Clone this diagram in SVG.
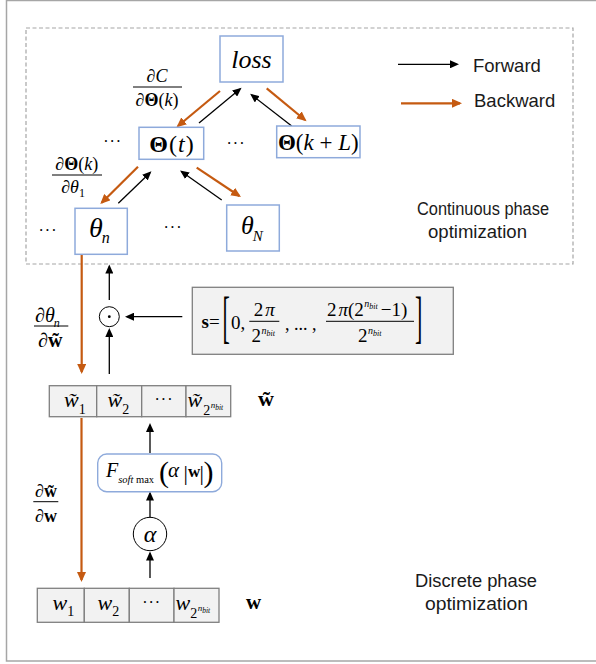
<svg xmlns="http://www.w3.org/2000/svg" width="596" height="664" viewBox="0 0 596 664">
<style>
.m{font-family:"Liberation Serif","Times New Roman",serif;fill:#000}
.i{font-style:italic}
.b{font-weight:bold}
.t{font-family:"Liberation Sans",Arial,sans-serif;fill:#1a1a1a}
.nb{fill:#fff;stroke:#8eaadb;stroke-width:1.5}
.gb{fill:#f2f2f2;stroke:#7f7f7f;stroke-width:1.3}
.bar{stroke:#000;stroke-width:1}
.fw{stroke:#000;stroke-width:1.3;fill:none;marker-end:url(#ak)}
.bw{stroke:#c55a11;stroke-width:2.2;fill:none;marker-end:url(#ao)}
</style>
<defs>
<marker id="ak" markerUnits="userSpaceOnUse" markerWidth="10" markerHeight="8" refX="7" refY="4" orient="auto"><path d="M0,0 L9,4 L0,8 z" fill="#000"/></marker>
<marker id="ao" markerUnits="userSpaceOnUse" markerWidth="11" markerHeight="9" refX="8" refY="4.5" orient="auto"><path d="M0,0 L10,4.5 L0,9 z" fill="#c55a11"/></marker>
</defs>

<rect x="6.5" y="0.5" width="620" height="660.5" fill="#fff" stroke="#a6a6a6" stroke-width="1.5"/>
<rect x="26" y="28" width="547" height="236" fill="none" stroke="#a6a6a6" stroke-width="1.2" stroke-dasharray="4 2.5"/>

<g id="connectors">
<path class="bw" d="M220,91 L178,126"/>
<path class="fw" d="M199,123 L240,89"/>
<path class="fw" d="M291.7,126 L251.7,95"/>
<path class="bw" d="M266.7,88.3 L305,120"/>
<path class="bw" d="M138,166.7 L101.7,202.7"/>
<path class="fw" d="M118.3,203.3 L150,172.7"/>
<path class="fw" d="M221.7,200 L181.7,171.7"/>
<path class="bw" d="M196.7,167.7 L239.3,196"/>
<path class="bw" d="M81.7,255 L81.7,372"/>
<path class="fw" d="M109.3,300 L109.3,266.5"/>
<path class="fw" d="M109.3,374 L109.3,330"/>
<path class="fw" d="M182.3,316.7 L127,316.7"/>
<path class="bw" d="M81.5,418 L81.5,580"/>
<path class="fw" d="M150,453 L150,425"/>
<path class="fw" d="M150,518 L150,493.5"/>
<path class="fw" d="M150,578 L150,553.5"/>
</g>

<g id="legend">
<path class="fw" d="M398,64.3 L457,64.3"/>
<text class="t" x="473" y="71.5" font-size="18.5">Forward</text>
<path class="bw" d="M401,103.3 L460,103.3" stroke-width="1.8"/>
<text class="t" x="474" y="106.7" font-size="18.5">Backward</text>
</g>

<g id="loss">
<rect class="nb" x="220" y="36" width="63" height="46"/>
<text class="m i" x="251.5" y="67.7" font-size="26" text-anchor="middle">loss</text>
</g>

<g id="theta-t">
<rect class="nb" x="139" y="127.3" width="64.7" height="32"/>
<text class="m" x="171.5" y="151.5" font-size="24" text-anchor="middle"><tspan class="b">Θ</tspan><tspan dx="1">(</tspan><tspan class="i" dx="1">t</tspan><tspan dx="1">)</tspan></text>
</g>

<g id="theta-kL">
<rect class="nb" x="276.7" y="126" width="83.3" height="31.7"/>
<text class="m" x="318.3" y="149.8" font-size="23" text-anchor="middle"><tspan class="b">Θ</tspan>(<tspan class="i">k</tspan> + <tspan class="i">L</tspan>)</text>
</g>

<g id="theta-n">
<rect class="nb" x="75" y="208.3" width="52.3" height="46"/>
<text class="m i" x="89" y="237" font-size="28">θ<tspan font-size="16" dx="-1" dy="6">n</tspan></text>
</g>

<g id="theta-N">
<rect class="nb" x="226.7" y="205" width="52.6" height="46"/>
<text class="m i" x="241" y="234" font-size="26">θ<tspan font-size="15" dx="-1" dy="7">N</tspan></text>
</g>

<g id="dots" class="m" font-size="16">
<text x="112.7" y="146.5" text-anchor="middle" letter-spacing="1">···</text>
<text x="236" y="149" text-anchor="middle" letter-spacing="1">···</text>
<text x="48" y="235.5" text-anchor="middle" letter-spacing="1">···</text>
<text x="173" y="233" text-anchor="middle" letter-spacing="1">···</text>
</g>

<g id="frac-dC">
<text class="m" x="157" y="81.5" font-size="18" text-anchor="middle">∂<tspan class="i">C</tspan></text>
<line class="bar" x1="133" y1="87" x2="182" y2="87"/>
<text class="m" x="157" y="106" font-size="18" text-anchor="middle">∂<tspan class="b">Θ</tspan>(<tspan class="i">k</tspan>)</text>
</g>

<g id="frac-dTheta">
<text class="m" x="76.7" y="170" font-size="18" text-anchor="middle">∂<tspan class="b">Θ</tspan>(<tspan class="i">k</tspan>)</text>
<line class="bar" x1="52" y1="175" x2="102" y2="175"/>
<text class="m" x="73" y="193" font-size="18" text-anchor="middle">∂<tspan class="i">θ</tspan><tspan font-size="12" dy="4">1</tspan></text>
</g>

<g id="odot">
<circle cx="109.3" cy="316.7" r="10" fill="#fff" stroke="#000" stroke-width="1"/>
<circle cx="109.3" cy="316.7" r="1.4" fill="#000"/>
</g>

<g id="s-vector">
<rect class="gb" x="192.3" y="287.3" width="261" height="67"/>
<text class="m" x="201.5" y="328.3" font-size="19"><tspan class="b">s</tspan>=</text>
<text class="m" x="222.5" y="129.4" font-size="22" transform="scale(1,2.6)">[</text>
<text class="m" x="231" y="328.5" font-size="19">0,</text>
<text class="m" x="264.3" y="315.7" font-size="19" text-anchor="middle">2<tspan class="i" dx="2">π</tspan></text>
<line class="bar" x1="249.3" y1="321.3" x2="279.3" y2="321.3"/>
<text class="m" x="251.5" y="342.3" font-size="19">2<tspan class="i" font-size="10" dy="-8.5" dx="0.5">n<tspan font-size="8" dy="2">bit</tspan></tspan></text>
<text class="m" x="285" y="329.5" font-size="18">, ... ,</text>
<text class="m" x="327" y="315.7" font-size="19">2<tspan class="i" dx="2">π</tspan>(2<tspan class="i" font-size="10" dy="-8.5" dx="0.5">n<tspan font-size="8" dy="2">bit</tspan></tspan><tspan dy="6.5" dx="3">−1)</tspan></text>
<line class="bar" x1="326" y1="321.3" x2="414" y2="321.3"/>
<text class="m" x="358" y="342.3" font-size="19">2<tspan class="i" font-size="10" dy="-8.5" dx="0.5">n<tspan font-size="8" dy="2">bit</tspan></tspan></text>
<text class="m" x="415" y="129.4" font-size="22" transform="scale(1,2.6)">]</text>
</g>

<g id="frac-dtheta-dw">
<text class="m" x="35" y="322" font-size="20">∂<tspan class="i">θ</tspan><tspan class="i" font-size="12" dy="5" dx="-1">n</tspan></text>
<line class="bar" x1="34" y1="326" x2="68.3" y2="326"/>
<text class="m" x="38" y="347" font-size="20">∂<tspan class="b">w̃</tspan></text>
</g>

<g id="w-tilde">
<rect class="gb" x="49.3" y="385.7" width="47.4" height="31"/>
<rect class="gb" x="96.7" y="385.7" width="45" height="31"/>
<rect class="gb" x="141.7" y="385.7" width="44.3" height="31"/>
<rect class="gb" x="186" y="385.7" width="44.7" height="31"/>
<text class="m" x="64" y="407" font-size="22"><tspan class="i">w̃</tspan><tspan font-size="14" dy="7" dx="0">1</tspan></text>
<text class="m" x="107.5" y="407" font-size="22"><tspan class="i">w̃</tspan><tspan font-size="14" dy="7" dx="0">2</tspan></text>
<text class="m" x="164" y="405" font-size="16" text-anchor="middle" letter-spacing="1">···</text>
<text class="m" x="187.5" y="407" font-size="22"><tspan class="i">w̃</tspan><tspan font-size="14" dy="8" dx="1">2</tspan><tspan class="i" font-size="9" dy="-7" dx="0.5">n</tspan><tspan class="i" font-size="7.5" dy="1.5">bit</tspan></text>
</g>
<g id="w-tilde-label">
<text class="m b" x="258" y="406" font-size="22">w̃</text>
</g>

<g id="frac-dw-dw">
<text class="m" x="35" y="497" font-size="18">∂<tspan class="b">w̃</tspan></text>
<line class="bar" x1="33.3" y1="501.7" x2="58.3" y2="501.7"/>
<text class="m" x="35" y="522" font-size="18">∂<tspan class="b">w</tspan></text>
</g>

<g id="softmax">
<rect x="97.7" y="454" width="124" height="37.7" rx="9" fill="#fff" stroke="#8eaadb" stroke-width="1.4"/>
<text class="m" x="106" y="477" font-size="20"><tspan class="i">F</tspan><tspan font-size="10.5" dy="6" dx="0"><tspan class="i">soft</tspan> max</tspan></text>
<text class="m" x="159" y="482" font-size="30">(</text>
<text class="m i" x="168" y="477" font-size="21">α</text>
<text class="m" x="183.5" y="480" font-size="22">|</text>
<text class="m b" x="188" y="477" font-size="17">w</text>
<text class="m" x="199.5" y="480" font-size="22">|</text>
<text class="m" x="203.5" y="482" font-size="30">)</text>
</g>

<g id="alpha">
<circle cx="150" cy="534" r="16.7" fill="#fff" stroke="#000" stroke-width="1"/>
<text class="m i" x="150" y="541.5" font-size="24" text-anchor="middle">α</text>
</g>

<g id="w">
<rect class="gb" x="37.3" y="588.3" width="47" height="34"/>
<rect class="gb" x="84.3" y="588.3" width="45" height="34"/>
<rect class="gb" x="129.3" y="588.3" width="44.7" height="34"/>
<rect class="gb" x="174" y="588.3" width="45" height="34"/>
<text class="m" x="52.5" y="609.5" font-size="22"><tspan class="i">w</tspan><tspan font-size="14" dy="6">1</tspan></text>
<text class="m" x="97.5" y="609.5" font-size="22"><tspan class="i">w</tspan><tspan font-size="14" dy="6.5">2</tspan></text>
<text class="m" x="151.7" y="608" font-size="16" text-anchor="middle" letter-spacing="1">···</text>
<text class="m" x="175.5" y="609.5" font-size="22"><tspan class="i">w</tspan><tspan font-size="14" dy="8.5" dx="0">2</tspan><tspan class="i" font-size="9" dy="-7" dx="0.5">n</tspan><tspan class="i" font-size="7.5" dy="1.5">bit</tspan></text>
</g>
<g id="w-label">
<text class="m b" x="246" y="609" font-size="21">w</text>
</g>

<g id="labels">
<text class="t" x="483" y="215" font-size="18.3" text-anchor="middle" textLength="132" lengthAdjust="spacingAndGlyphs">Continuous phase</text>
<text class="t" x="477.5" y="238" font-size="18.3" text-anchor="middle" textLength="99" lengthAdjust="spacingAndGlyphs">optimization</text>
<text class="t" x="476" y="586.7" font-size="18.3" text-anchor="middle" textLength="122" lengthAdjust="spacingAndGlyphs">Discrete phase</text>
<text class="t" x="476.5" y="610" font-size="18.3" text-anchor="middle" textLength="103" lengthAdjust="spacingAndGlyphs">optimization</text>
</g>
</svg>
